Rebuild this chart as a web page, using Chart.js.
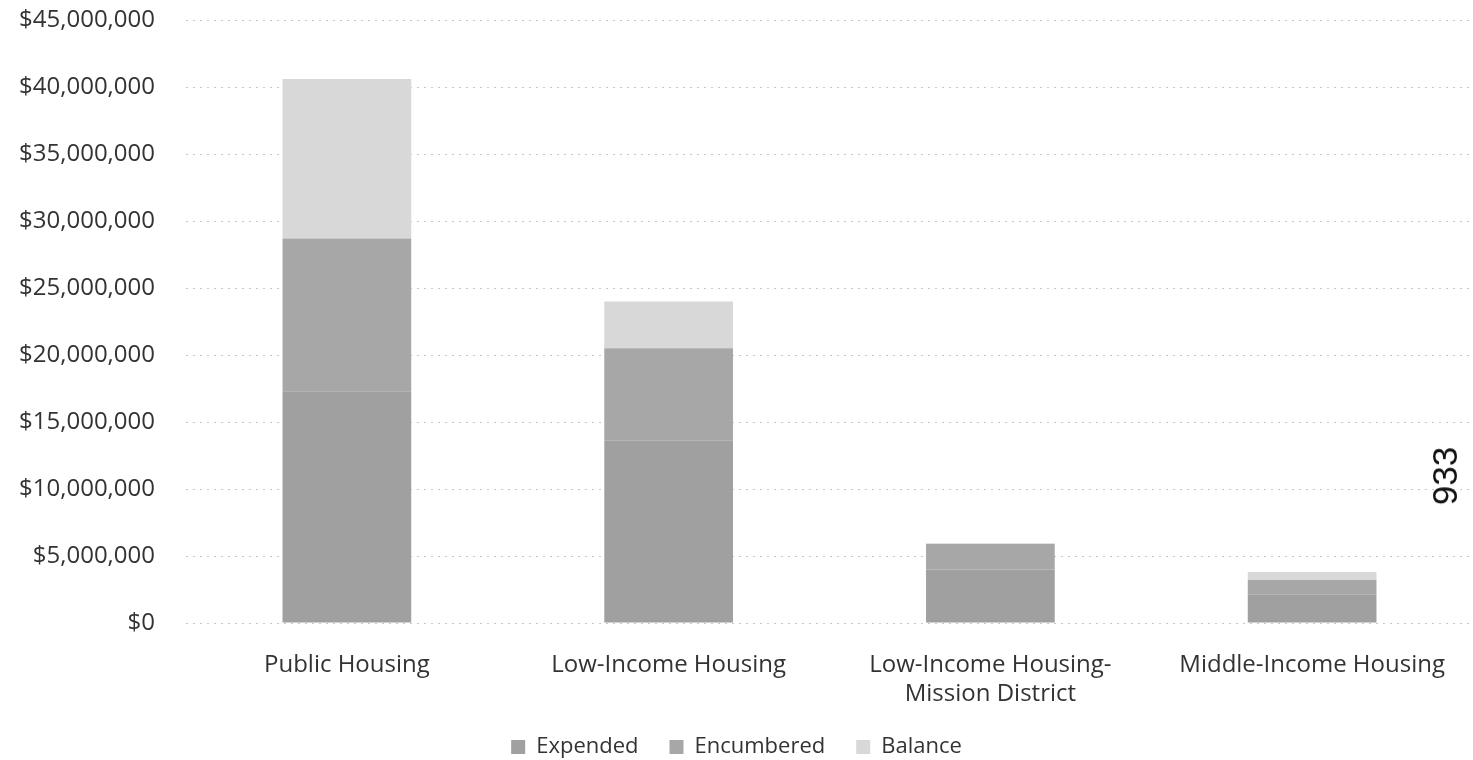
<!DOCTYPE html>
<html>
<head>
<meta charset="utf-8">
<script src="https://cdn.jsdelivr.net/npm/chart.js@4.4.1/dist/chart.umd.min.js"></script>
<style>
  html, body { margin: 0; padding: 0; background: #fff; }
  #wrap { position: relative; width: 1473px; height: 760px; }
  #stamp {
    position: absolute; left: 1445px; top: 476px;
    transform: translate(-50%, -50%) rotate(-90deg);
    font-family: "Liberation Sans", Arial, sans-serif;
    font-size: 35px; color: #111; white-space: nowrap;
  }
</style>
</head>
<body>
<div id="wrap">
  <canvas id="chart" width="1473" height="760"></canvas>
  <div id="stamp">933</div>
</div>
<script>
// categories and stacked series (dollars)
const categories = [
  "Public Housing",
  "Low-Income Housing",
  ["Low-Income Housing-", "Mission District"],
  "Middle-Income Housing"
];
const expended = [17300000, 13600000, 4000000, 2100000];
const encumbered = [11400000, 6900000, 1900000, 1100000];
const balance = [11900000, 3500000, 50000, 600000];

const textColor = "#333";
const font = { family: "'Open Sans', sans-serif", size: 24 };

function money(v) {
  return "$" + Math.round(v).toLocaleString("en-US");
}

new Chart(document.getElementById("chart"), {
  type: "bar",
  data: {
    labels: categories,
    datasets: [
      { label: "Expended", data: expended, backgroundColor: "#a0a0a0" },
      { label: "Encumbered", data: encumbered, backgroundColor: "#a7a7a7" },
      { label: "Balance", data: balance, backgroundColor: "#d8d8d8" }
    ]
  },
  options: {
    responsive: false,
    animation: false,
    layout: { padding: { top: 20, right: 0, bottom: -8, left: 0 } },
    datasets: {
      bar: { categoryPercentage: 1, barPercentage: 0.4 }
    },
    plugins: {
      tooltip: { enabled: false },
      legend: {
        position: "bottom",
        labels: {
          color: textColor,
          font: { family: font.family, size: 22 },
          boxWidth: 14,
          boxHeight: 14,
          padding: 31
        }
      }
    },
    scales: {
      x: {
        stacked: true,
        grid: { display: false },
        border: { display: false },
        ticks: { color: textColor, font: font, padding: 20, maxRotation: 0 },
        afterFit: (axis) => { axis.height = 82; }
      },
      y: {
        stacked: true,
        min: 0,
        max: 45000000,
        grid: {
          color: "#c8c8c8",
          drawTicks: false
        },
        border: { display: false, dash: [2, 5] },
        ticks: {
          stepSize: 5000000,
          color: textColor,
          font: font,
          padding: 31,
          callback: (v) => money(v)
        },
        afterFit: (axis) => {
          axis.width = 186;
          axis.paddingTop = 0;
          axis.paddingBottom = 0;
        }
      }
    }
  }
});
</script>
</body>
</html>
